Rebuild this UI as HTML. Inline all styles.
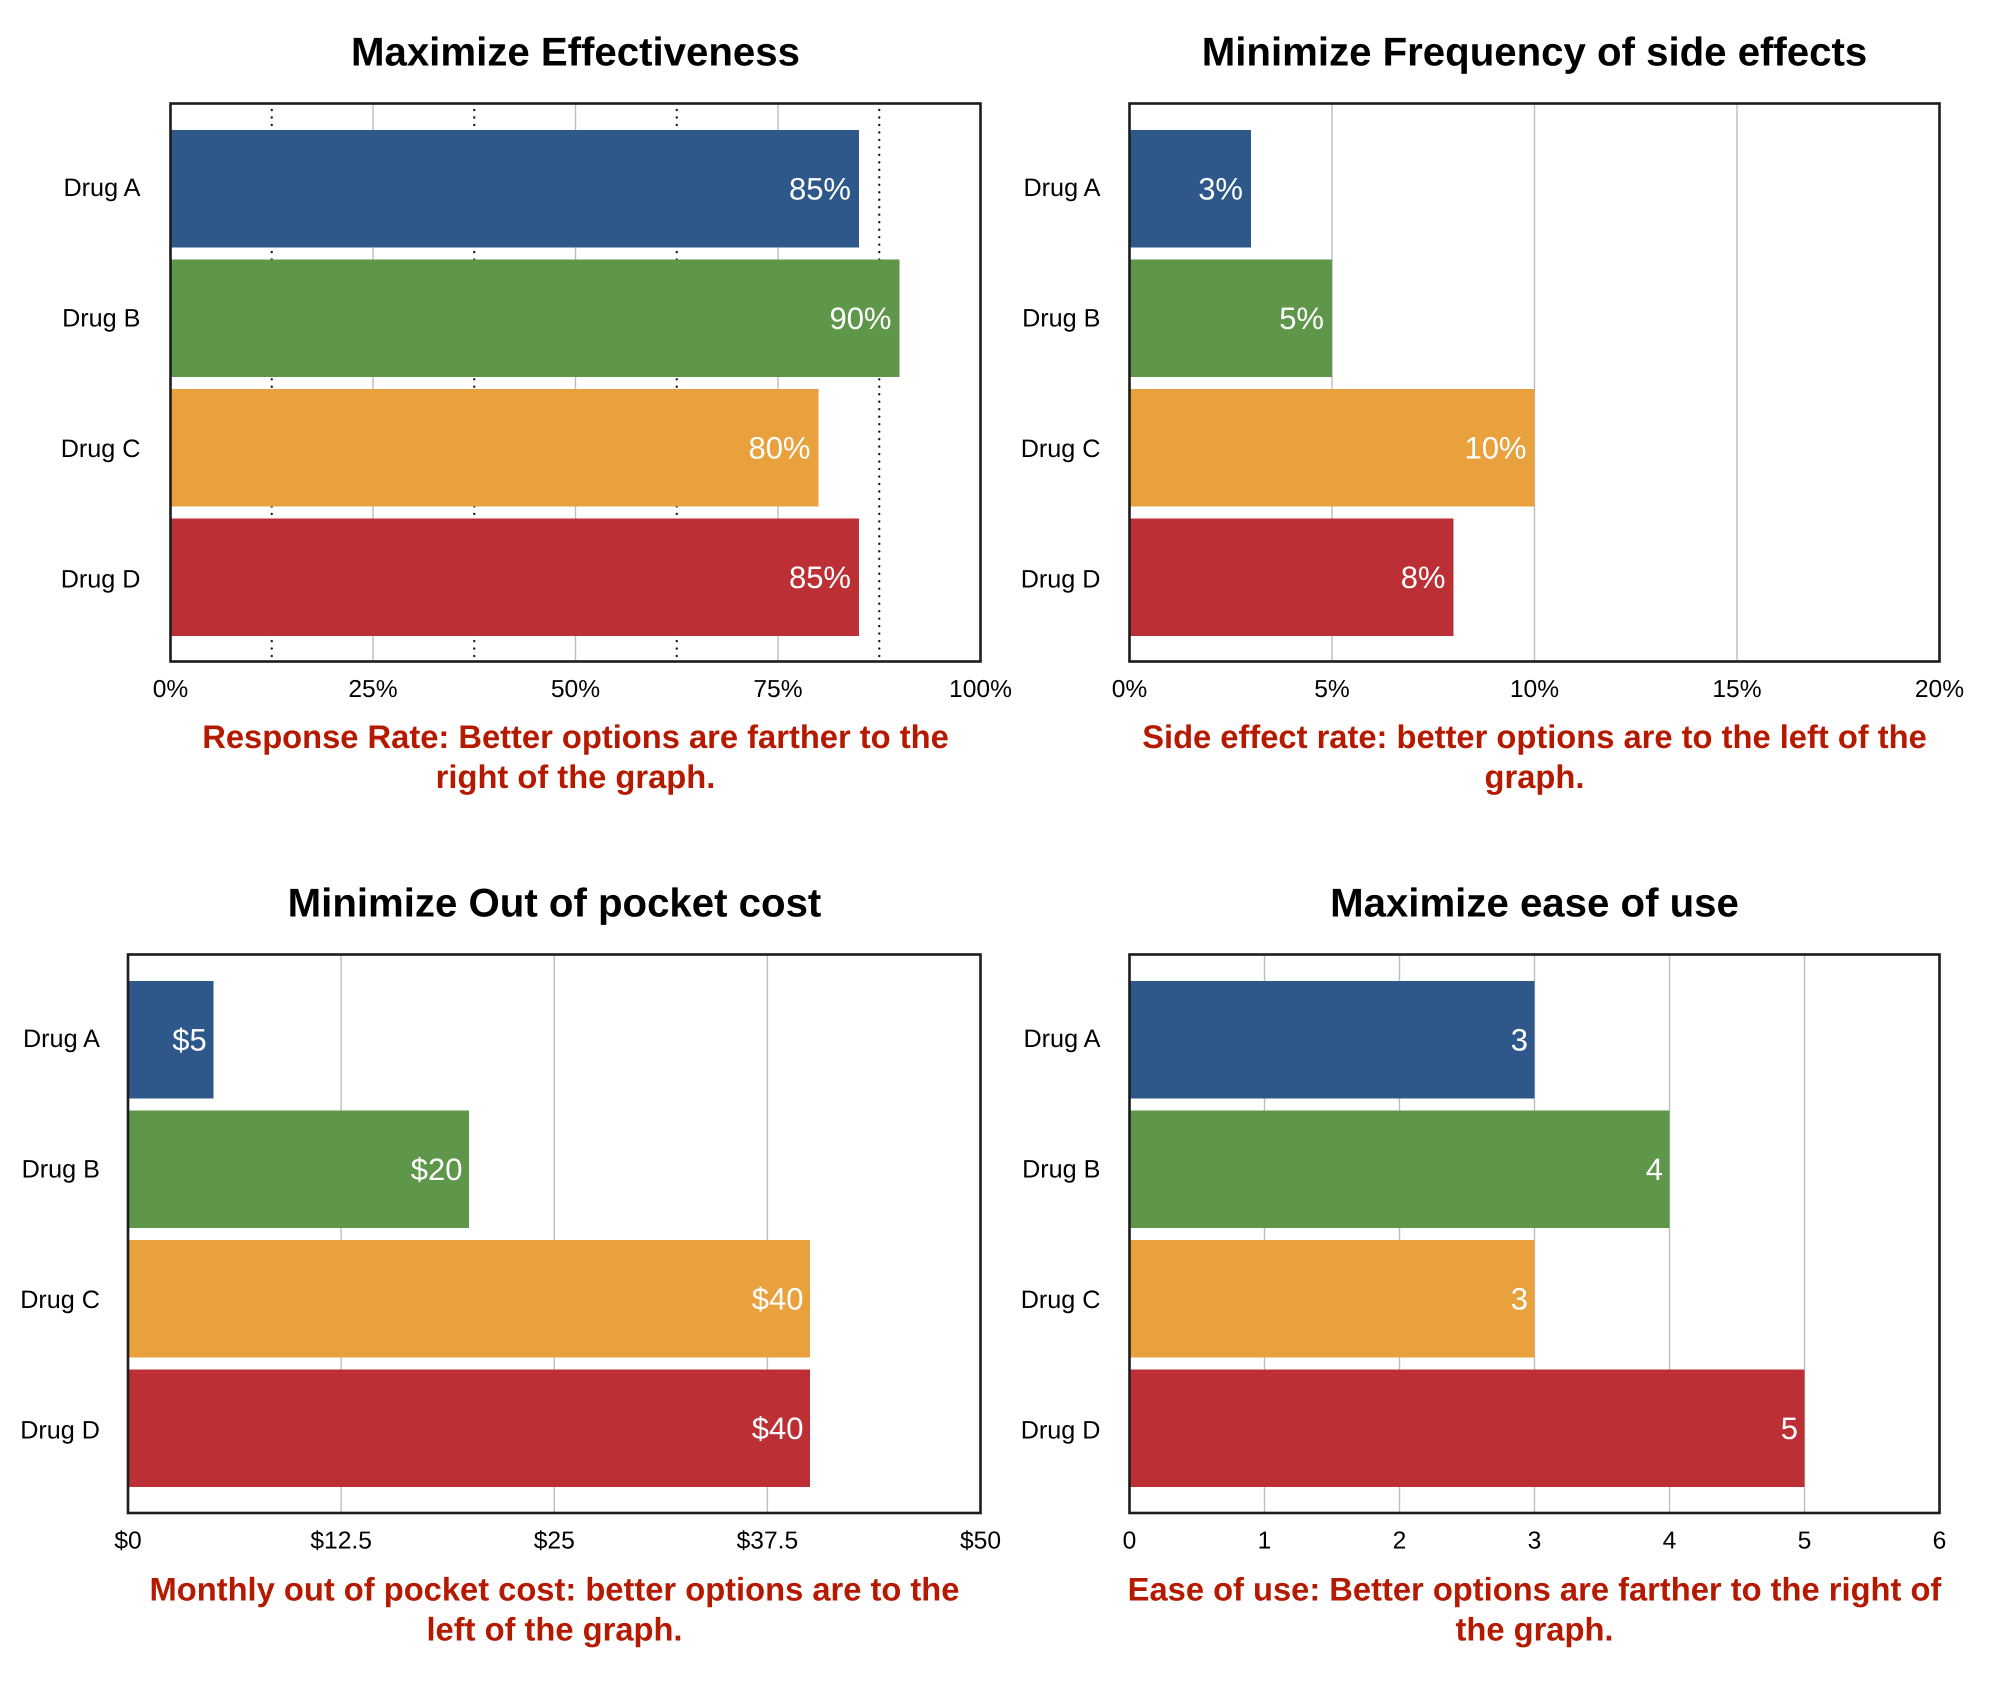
<!DOCTYPE html>
<html lang="en">
<head>
<meta charset="utf-8">
<title>Drug comparison charts</title>
<style>
  html, body { margin: 0; padding: 0; background: #fff; }
  svg { display: block; text-rendering: geometricPrecision; font-family: "Liberation Sans", Arial, sans-serif; }
  .title { font-size: 40.2px; font-weight: 700; fill: #000; text-anchor: middle; }
  .caption { font-size: 32.7px; font-weight: 700; fill: #b51a00; text-anchor: middle; }
  .tick { font-size: 24.6px; fill: #000; text-anchor: middle; }
  .cat { font-size: 25.2px; fill: #000; text-anchor: end; }
  .val { font-size: 31px; fill: #fff; text-anchor: end; }
  .frame { fill: none; stroke: #1c1c1c; stroke-width: 2.6; }
</style>
</head>
<body>
<svg id="figure" xmlns="http://www.w3.org/2000/svg" width="2000" height="1692" viewBox="0 0 2000 1692">
  <rect width="2000" height="1692" fill="#fff"/>

  <g>
    <text class="title" x="575.5" y="65.5">Maximize Effectiveness</text>
    <g id="marks-effectiveness"></g>
    <rect class="frame" x="170.5" y="103.5" width="810" height="558"/>
    <text class="caption" x="575.5" y="748">Response Rate: Better options are farther to the</text>
    <text class="caption" x="575.5" y="788">right of the graph.</text>
  </g>

  <g>
    <text class="title" x="1534.5" y="65.5">Minimize Frequency of side effects</text>
    <g id="marks-side-effects"></g>
    <rect class="frame" x="1129.5" y="103.5" width="810" height="558"/>
    <text class="caption" x="1534.5" y="748">Side effect rate: better options are to the left of the</text>
    <text class="caption" x="1534.5" y="788">graph.</text>
  </g>

  <g>
    <text class="title" x="554.5" y="916.5">Minimize Out of pocket cost</text>
    <g id="marks-cost"></g>
    <rect class="frame" x="128" y="954.5" width="852.5" height="558.5"/>
    <text class="caption" x="554.5" y="1600.5">Monthly out of pocket cost: better options are to the</text>
    <text class="caption" x="554.5" y="1640.5">left of the graph.</text>
  </g>

  <g>
    <text class="title" x="1534.5" y="916.5">Maximize ease of use</text>
    <g id="marks-ease"></g>
    <rect class="frame" x="1129.5" y="954.5" width="810" height="558.5"/>
    <text class="caption" x="1534.5" y="1600.5">Ease of use: Better options are farther to the right of</text>
    <text class="caption" x="1534.5" y="1640.5">the graph.</text>
  </g>
</svg>

<script>
// ---- data ----
const categories = ['Drug A', 'Drug B', 'Drug C', 'Drug D'];
const barColors = ['#2d5889', '#5e964a', '#e8a13c', '#bc2f34'];

const effectivenessValues = [85, 90, 80, 85];
const effectivenessTicks = [0, 25, 50, 75, 100];
const effectivenessTickLabels = ['0%', '25%', '50%', '75%', '100%'];
const effectivenessDotted = [12.5, 37.5, 62.5, 87.5];

const sideEffectValues = [3, 5, 10, 8];
const sideEffectTicks = [0, 5, 10, 15, 20];
const sideEffectTickLabels = ['0%', '5%', '10%', '15%', '20%'];

const costValues = [5, 20, 40, 40];
const costTicks = [0, 12.5, 25, 37.5, 50];
const costTickLabels = ['$0', '$12.5', '$25', '$37.5', '$50'];

const easeValues = [3, 4, 3, 5];
const easeTicks = [0, 1, 2, 3, 4, 5, 6];
const easeTickLabels = ['0', '1', '2', '3', '4', '5', '6'];

// ---- layout ----
const SVG_NS = 'http://www.w3.org/2000/svg';
const BAND_STEP = 129.5;
const BAR_HEIGHT = 117.5;
const BAND_OFFSET = 26;

function make(parent, tag, attrs, text) {
  const el = document.createElementNS(SVG_NS, tag);
  for (const k in attrs) el.setAttribute(k, attrs[k]);
  if (text !== undefined) el.textContent = text;
  parent.appendChild(el);
  return el;
}

function slug(s) {
  return String(s).toLowerCase().replace(/[^a-z0-9]+/g, '-');
}

function drawPanel(cfg) {
  const root = document.getElementById(cfg.target);
  const xScale = function (v) {
    return cfg.left + (v - cfg.ticks[0]) / (cfg.ticks[cfg.ticks.length - 1] - cfg.ticks[0]) * (cfg.right - cfg.left);
  };
  const yScale = function (i) {
    return cfg.top + BAND_OFFSET + i * BAND_STEP;
  };

  // solid gridlines at labelled ticks
  cfg.ticks.forEach(function (t, i) {
    if (i === 0 || i === cfg.ticks.length - 1) return;
    const line = make(root, 'line', { x1: xScale(t), x2: xScale(t), y1: cfg.top, y2: cfg.bottom, stroke: '#bdbdbd', 'stroke-width': 1.4 });
    
    
  });

  // dotted minor gridlines
  (cfg.dotted || []).forEach(function (t) {
    const line = make(root, 'line', { x1: xScale(t), x2: xScale(t), y1: cfg.top + 6, y2: cfg.bottom, stroke: '#1a1a1a', 'stroke-width': 2.4, 'stroke-linecap': 'round', 'stroke-dasharray': '0.01 7.47' });
    
    
  });

  // bars, value labels, category labels
  cfg.values.forEach(function (v, i) {
    const y = yScale(i);
    const bar = make(root, 'rect', { x: cfg.left, y: y, width: xScale(v) - cfg.left, height: BAR_HEIGHT, fill: barColors[i], 'shape-rendering': 'crispEdges' });
    
    

    const label = make(root, 'text', { class: 'val', x: xScale(v) - cfg.valuePad, y: y + BAR_HEIGHT / 2 + 10.5 }, cfg.format(v));
    
    

    const cat = make(root, 'text', { class: 'cat', x: cfg.left - cfg.catGap, y: cfg.top + 92 + i * 130.5 }, categories[i]);
    
    
  });

  // x-axis tick labels
  cfg.ticks.forEach(function (t, i) {
    const tick = make(root, 'text', { class: 'tick', x: xScale(t), y: cfg.bottom + 35.5 }, cfg.tickLabels[i]);
    
    
  });
}

drawPanel({ key: 'effectiveness', target: 'marks-effectiveness', left: 170.5, right: 980.5, top: 104, bottom: 661.5, valuePad: 8, catGap: 30,
  values: effectivenessValues, ticks: effectivenessTicks, tickLabels: effectivenessTickLabels, dotted: effectivenessDotted,
  format: function (v) { return v + '%'; } });

drawPanel({ key: 'side-effects', target: 'marks-side-effects', left: 1129.5, right: 1939.5, top: 104, bottom: 661.5, valuePad: 8, catGap: 29,
  values: sideEffectValues, ticks: sideEffectTicks, tickLabels: sideEffectTickLabels,
  format: function (v) { return v + '%'; } });

drawPanel({ key: 'cost', target: 'marks-cost', left: 128, right: 980.5, top: 955, bottom: 1513, valuePad: 6.5, catGap: 28,
  values: costValues, ticks: costTicks, tickLabels: costTickLabels,
  format: function (v) { return '$' + v; } });

drawPanel({ key: 'ease', target: 'marks-ease', left: 1129.5, right: 1939.5, top: 955, bottom: 1513, valuePad: 6.5, catGap: 29,
  values: easeValues, ticks: easeTicks, tickLabels: easeTickLabels,
  format: function (v) { return String(v); } });
</script>
</body>
</html>
